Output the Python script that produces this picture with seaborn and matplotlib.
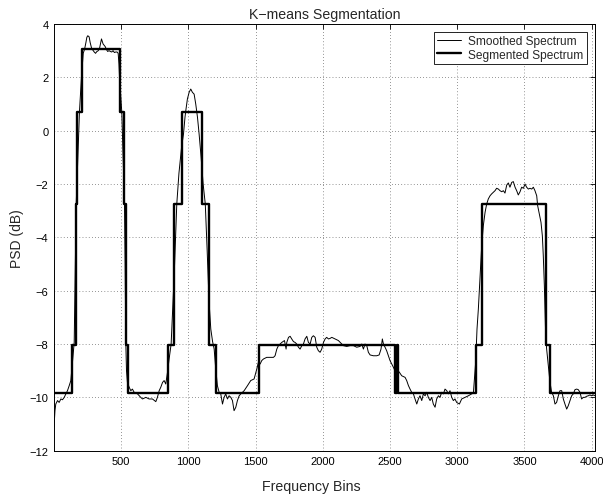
import matplotlib
matplotlib.use("Agg")
import matplotlib.pyplot as plt
import seaborn as sns
import numpy as np

# ---- Smoothed spectrum ----
smooth_x = [1, 8, 14, 27, 39, 52, 64, 77, 89, 101, 114, 126, 138, 151,
            158, 166, 178, 190, 205, 218, 228, 238, 245, 252, 262, 270, 280, 290, 300,
            310, 318, 330, 340, 348, 354, 360, 366, 374, 382, 390, 400, 410, 420, 430,
            440, 450, 460, 470, 478, 484, 490, 498, 505, 515, 525, 530, 535, 540,
            547, 560, 572, 584, 597, 622, 646, 659, 684, 708, 733, 758, 770, 783, 795,
            808, 820, 832, 845, 857,
            872, 885, 894, 905, 914, 930, 950, 964, 975, 981, 993, 1006, 1012, 1018,
            1024, 1030, 1043, 1055, 1068, 1080, 1095, 1110, 1126, 1140, 1155, 1167,
            1180, 1192,
            1204, 1216, 1229, 1241, 1254, 1266, 1278, 1291, 1303, 1316, 1328, 1340,
            1353, 1365, 1378, 1390, 1415, 1440, 1464, 1489,
            1509, 1521, 1534, 1546, 1559, 1583, 1608, 1633, 1645, 1658, 1670, 1695,
            1715, 1727, 1732, 1745, 1757, 1769, 1782, 1794, 1806, 1819, 1831, 1844,
            1856, 1868, 1881, 1893, 1906, 1918, 1930, 1943, 1955, 1967, 1980, 1992,
            2005, 2017, 2029, 2042, 2054, 2067, 2091, 2116, 2141, 2153, 2178, 2203,
            2228, 2252, 2277, 2290, 2302, 2314, 2327, 2339, 2352, 2376, 2401, 2419,
            2433, 2443, 2451, 2463, 2475, 2488, 2500, 2513, 2525, 2537, 2550, 2567,
            2587, 2612, 2624, 2637, 2649, 2661, 2674, 2686, 2699, 2711, 2723, 2736,
            2748, 2761, 2773, 2785, 2798, 2810, 2822, 2835, 2847, 2860, 2872, 2884,
            2897, 2909, 2922, 2934, 2946, 2959, 2971, 2983, 2996, 3016, 3033, 3058,
            3083, 3107, 3120,
            3137, 3147, 3157, 3169, 3182, 3194, 3207, 3219, 3231, 3244, 3256, 3269,
            3281, 3293, 3306, 3318, 3331, 3343, 3355, 3368, 3380, 3392, 3405, 3417,
            3430, 3442, 3454, 3467, 3479, 3492, 3504, 3516, 3529, 3541, 3554, 3566,
            3578, 3591, 3598, 3608, 3623, 3633, 3640, 3648, 3653, 3658, 3665, 3677,
            3690, 3702, 3715, 3727, 3739, 3752, 3764, 3777, 3789, 3801, 3814, 3826,
            3839, 3851, 3863, 3876, 3888, 3900, 3913, 3925, 3938, 3950, 3962, 3975,
            3987, 3999, 4012, 4024]
smooth_y = [-11.1, -10.5, -10.25, -10.12, -10.19, -10.06, -10.09, -10.0, -9.87, -9.75, -9.56, -9.37, -8.69, -7.94,
            -5.5, -2.75, -1.0, 0.7, 2.0, 2.9, 3.05, 3.3, 3.5, 3.56, 3.52, 3.3, 3.1, 3.02, 2.95,
            2.9, 2.96, 3.0, 3.1, 3.3, 3.44, 3.35, 3.25, 3.2, 3.15, 3.05, 2.97, 3.0, 2.97, 2.95,
            3.0, 2.93, 2.95, 2.95, 2.9, 2.5, 1.8, 1.2, 0.7, -1.0, -2.75, -5.0, -8.0, -9.0,
            -9.44, -9.62, -9.75, -9.69, -9.81, -9.87, -10.0, -10.06, -10.0, -10.06, -10.06, -10.16, -10.0, -9.75, -9.62,
            -9.44, -9.37, -9.5, -9.06, -8.56,
            -8.0, -6.5, -5.5, -4.0, -2.75, -1.6, -0.6, -0.12, 0.5, 0.75, 1.19, 1.44, 1.5, 1.56,
            1.5, 1.44, 1.37, 1.0, 0.5, -0.12, -1.0, -2.0, -2.75, -4.5, -6.5, -7.44,
            -7.9, -8.19,
            -8.94, -9.56, -9.81, -9.87, -10.25, -10.0, -9.87, -10.06, -9.94, -10.0, -10.12, -10.5,
            -10.37, -10.12, -9.94, -9.87, -9.75, -9.56, -9.37, -9.31,
            -8.94, -8.69, -8.75, -8.62, -8.56, -8.5, -8.5, -8.5, -8.44, -8.19, -8.06, -7.94,
            -7.87, -8.19, -7.94, -7.75, -7.71, -7.81, -7.91, -7.94, -8.0, -8.12, -8.19, -8.06,
            -8.0, -7.81, -7.71, -7.94, -8.0, -7.75, -7.69, -7.75, -8.12, -8.25, -8.31, -8.19,
            -7.94, -7.81, -7.75, -7.81, -7.79, -7.75, -7.81, -7.87, -8.0, -8.06, -8.09, -8.06,
            -8.06, -8.12, -8.09, -8.0, -8.19, -8.0, -8.06, -8.31, -8.41, -8.44, -8.44, -8.41,
            -8.19, -7.81, -8.0, -8.12, -8.25, -8.44, -8.62, -8.75, -8.87, -9.0, -9.06, -9.04,
            -9.19, -9.25, -9.37, -9.56, -9.69, -9.81, -9.87, -10.06, -10.25, -10.06, -9.94, -10.12,
            -9.87, -9.94, -9.81, -10.0, -10.12, -10.0, -10.25, -10.37, -10.06, -9.94, -10.0, -9.81,
            -9.87, -9.69, -9.75, -9.87, -9.75, -10.0, -10.12, -10.06, -10.19, -10.25, -10.06, -10.0,
            -9.94, -9.87, -9.84,
            -8.69, -7.44, -6.69, -5.56, -4.31, -3.56, -3.06, -2.75, -2.56, -2.44, -2.37, -2.31,
            -2.25, -2.16, -2.19, -2.25, -2.29, -2.25, -2.34, -2.04, -1.96, -2.12, -1.94, -1.91,
            -2.12, -2.25, -2.41, -2.29, -2.12, -2.16, -2.0, -2.12, -2.19, -2.16, -2.19, -2.12,
            -2.25, -2.44, -2.81, -3.06, -3.44, -3.94, -4.69, -5.81, -6.81, -7.69, -8.19, -8.81,
            -9.44, -9.81, -9.94, -10.25, -10.19, -9.94, -9.75, -9.75, -10.06, -10.25, -10.44, -10.31,
            -10.12, -9.94, -9.87, -9.71, -9.69, -9.71, -9.81, -10.06, -10.0, -10.0, -9.96, -9.94,
            -9.91, -9.94, -9.91, -9.94]

# ---- Segmented spectrum (step edges and levels) ----
seg_edges = [1, 138, 161, 173, 208, 493, 518, 535, 550, 852, 894, 951, 1100, 1150,
             1207, 1529, 2540, 2550, 2558, 3137, 3182, 3660, 3690, 4024]
seg_levels = [-9.85, -8.05, -2.75, 0.7, 3.05, 0.7, -2.75, -8.05, -9.85, -8.05, -2.75,
              0.7, -2.75, -8.05, -9.85, -8.05, -9.85, -8.05, -9.85, -8.05, -2.75,
              -8.05, -9.85, -9.85]

x_ticks = [500, 1000, 1500, 2000, 2500, 3000, 3500, 4000]
y_ticks = [-12, -10, -8, -6, -4, -2, 0, 2, 4]

sns.set_style("white")
plt.rcParams['font.family'] = ['Liberation Sans', 'DejaVu Sans']

fig = plt.figure(figsize=(6.03, 5.02), dpi=100)
ax = fig.add_axes([0.0896, 0.1002, 0.897, 0.850])

sns.lineplot(x=smooth_x, y=smooth_y, ax=ax, color='black', linewidth=0.7,
             estimator=None, sort=False, label='Smoothed Spectrum')
sns.lineplot(x=seg_edges, y=seg_levels, ax=ax, color='black', linewidth=1.7,
             estimator=None, sort=False, drawstyle='steps-post',
             label='Segmented Spectrum')

ax.set_xlim(1, 4024)
ax.set_ylim(-12, 4)
ax.set_xticks(x_ticks)
ax.set_yticks(y_ticks)
ax.grid(True, linestyle=(0, (1, 3.5)), color='#333333', linewidth=0.5)
ax.tick_params(direction='in', length=3.5, width=0.6, top=True, right=True,
               labelsize=8, colors='black', pad=4)
for s in ax.spines.values():
    s.set_visible(True)
    s.set_color('black')
    s.set_linewidth(0.7)

ax.set_title('K\u2212means Segmentation', fontsize=10.2, pad=4)
ax.set_xlabel('Frequency Bins', fontsize=10.2, labelpad=9, x=0.476)
ax.set_ylabel('PSD (dB)', fontsize=10, labelpad=4)

leg = ax.legend(loc='upper right', fontsize=8.6, frameon=True, fancybox=False,
                borderpad=0.3, handlelength=2.0, labelspacing=0.1,
                borderaxespad=0.65, handletextpad=0.6)
leg.get_frame().set_edgecolor('black')
leg.get_frame().set_linewidth(0.6)
leg.get_frame().set_alpha(1)

fig.savefig('out.png', dpi=100)
